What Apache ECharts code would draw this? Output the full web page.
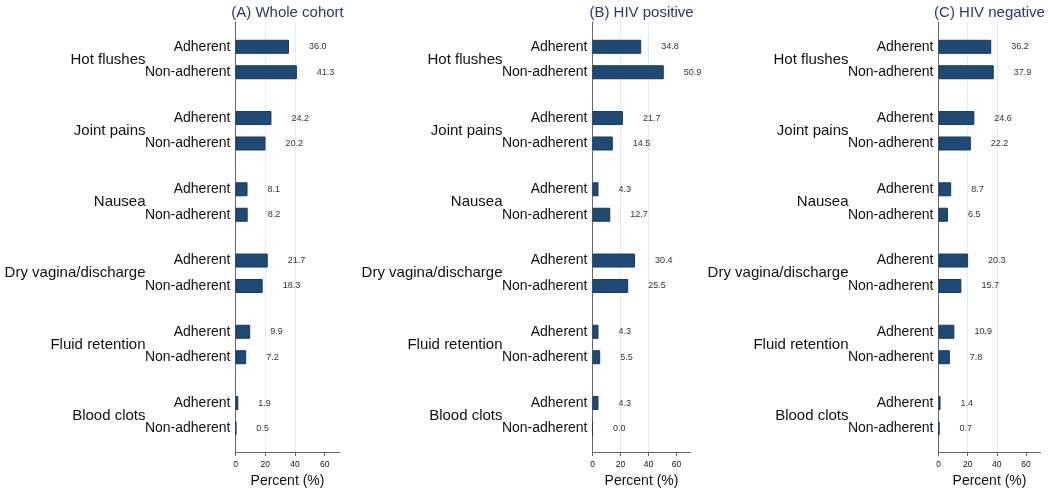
<!DOCTYPE html>
<html>
<head>
<meta charset="utf-8">
<script src="https://cdn.jsdelivr.net/npm/echarts@6/dist/echarts.min.js"></script>
<style>html,body{margin:0;padding:0;background:#fff}#c{width:1050px;height:489px}</style>
</head>
<body>
<div id="c"></div>
<script>
const categories = ['Hot flushes', 'Joint pains', 'Nausea', 'Dry vagina/discharge', 'Fluid retention', 'Blood clots'];
const groups = ['Adherent', 'Non-adherent'];
const panelTitles = ['(A) Whole cohort', '(B) HIV positive', '(C) HIV negative'];
const wholeAdherent = [36.0, 24.2, 8.1, 21.7, 9.9, 1.9];
const wholeNonAdherent = [41.3, 20.2, 8.2, 18.3, 7.2, 0.5];
const hivPosAdherent = [34.8, 21.7, 4.3, 30.4, 4.3, 4.3];
const hivPosNonAdherent = [50.9, 14.5, 12.7, 25.5, 5.5, 0.0];
const hivNegAdherent = [36.2, 24.6, 8.7, 20.3, 10.9, 1.4];
const hivNegNonAdherent = [37.9, 22.2, 6.5, 15.7, 7.8, 0.7];
const xTicks = [0, 20, 40, 60];
const xMax = 70;

const panels = [
  [wholeAdherent, wholeNonAdherent],
  [hivPosAdherent, hivPosNonAdherent],
  [hivNegAdherent, hivNegNonAdherent]
];

// slot layout on a fine category axis (uneven spacing between groups)
const SLOTS = 338, FIRST = 19, WITHIN = 20, PITCH = 56;
const slotIdx = (g, s) => FIRST + PITCH * g + WITHIN * s;
const slotCats = Array.from({length: SLOTS}, (_, i) => String(i));
const subLabelAt = {}, groupLabelAt = {};
categories.forEach((c, g) => {
  groups.forEach((s, k) => { subLabelAt[slotIdx(g, k)] = s; });
  groupLabelAt[slotIdx(g, 0) + WITHIN / 2] = c;
});

const gridDefs = [
  {left: 235.5, width: 104},
  {left: 592.5, width: 98},
  {left: 938.5, width: 102}
];
const FONT = 'Arial, "Liberation Sans", Helvetica, sans-serif';

const option = {
  animation: false,
  backgroundColor: '#ffffff',
  textStyle: {fontFamily: FONT},
  graphic: panelTitles.map((t, p) => ({
    type: 'text',
    x: gridDefs[p].left + gridDefs[p].width / 2,
    y: 12.5,
    style: {text: t, fontSize: 15, fill: '#2b3a66', fontFamily: FONT,
      textAlign: 'center', textVerticalAlign: 'middle', align: 'center', verticalAlign: 'middle'}
  })),
  grid: gridDefs.map(d => ({left: d.left, width: d.width, top: 22, height: 430,
    containLabel: false, outerBoundsMode: 'none'})),
  xAxis: gridDefs.map((d, p) => ({
    type: 'value', gridIndex: p, min: 0, max: xMax, interval: 20,
    name: 'Percent (%)', nameLocation: 'middle', nameGap: 16,
    nameTextStyle: {fontSize: 14, color: '#111', fontFamily: FONT},
    axisLine: {show: true, lineStyle: {color: '#666', width: 1}},
    axisTick: {show: true, length: 4, lineStyle: {color: '#666'}, customValues: xTicks},
    axisLabel: {fontSize: 8.5, color: '#111', margin: 8, customValues: xTicks, fontFamily: FONT},
    splitLine: {show: true, showMinLine: false, showMaxLine: false, lineStyle: {color: '#e4ecf0', width: 1}}
  })),
  yAxis: [],
  series: []
};

gridDefs.forEach((d, p) => {
  option.yAxis.push({
    type: 'category', gridIndex: p, data: slotCats, inverse: true,
    axisLine: {show: true, lineStyle: {color: '#666', width: 1}},
    axisTick: {show: false},
    splitLine: {show: false},
    axisLabel: {interval: 0, margin: 5, fontSize: 14, color: '#111', fontFamily: FONT,
      formatter: (v, i) => subLabelAt[i] || ''}
  });
  option.yAxis.push({
    type: 'category', gridIndex: p, data: slotCats, inverse: true, position: 'left',
    axisLine: {show: false}, axisTick: {show: false}, splitLine: {show: false},
    axisLabel: {interval: 0, margin: 90, fontSize: 15, color: '#111', fontFamily: FONT,
      formatter: (v, i) => groupLabelAt[i] || ''}
  });
  const data = slotCats.map(() => '-');
  panels[p].forEach((vals, k) => {
    vals.forEach((v, g) => { data[slotIdx(g, k)] = v; });
  });
  option.series.push({
    type: 'bar', xAxisIndex: p, yAxisIndex: p * 2, data: data,
    barWidth: 14,
    itemStyle: {color: '#1f4a75', borderColor: '#163a5e', borderWidth: 1},
    label: {show: true, position: 'right', distance: 20, fontSize: 9, color: '#333', fontFamily: FONT,
      formatter: o => Number(o.value).toFixed(1)}
  });
});

const chart = echarts.init(document.getElementById('c'), null, {renderer: 'canvas'});
chart.setOption(option);
</script>
</body>
</html>
